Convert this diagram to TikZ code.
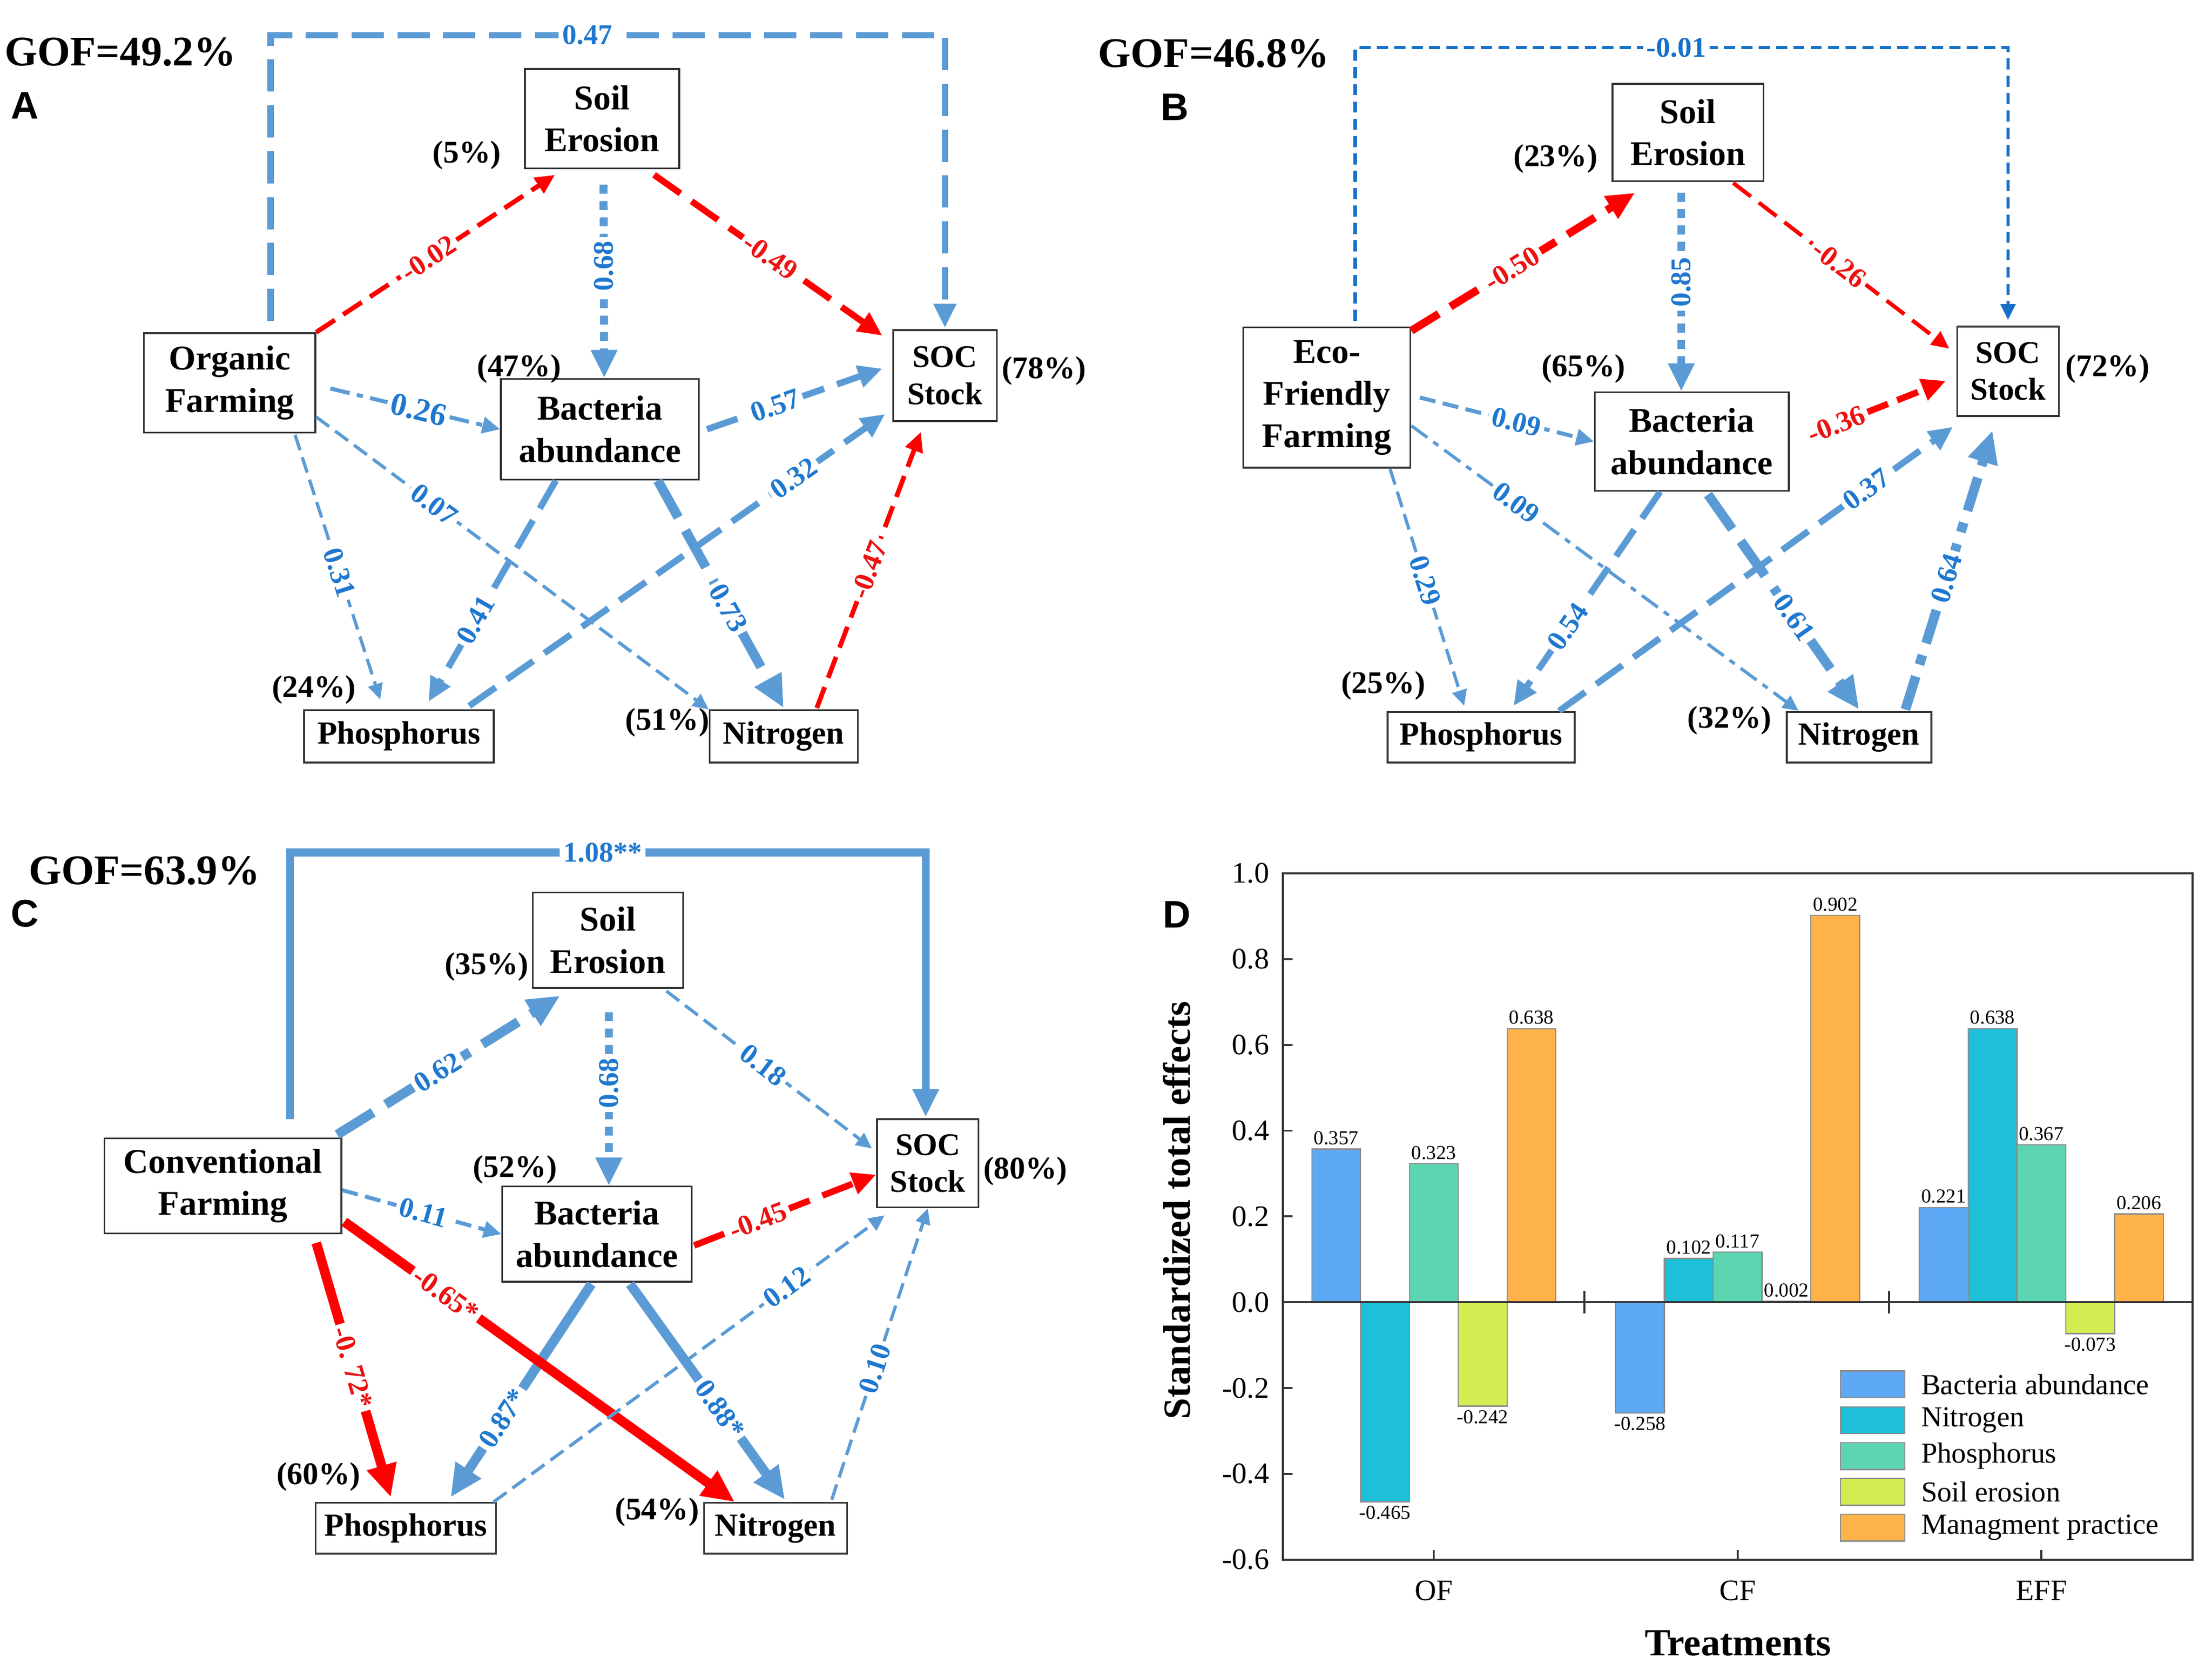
\documentclass[tikz,border=0pt]{standalone}
\usepackage{fontspec}
\setmainfont{Liberation Serif}
\newfontfamily\panelfont{Liberation Sans}
\usetikzlibrary{arrows.meta}
\definecolor{lblue}{HTML}{5B9BD5}
\definecolor{tblue}{HTML}{1F78CF}
\definecolor{dblue}{HTML}{1670C8}
\definecolor{lred}{HTML}{FF0000}
\definecolor{tred}{HTML}{EE1111}
\definecolor{cBA}{HTML}{5DA9F6}
\definecolor{cN}{HTML}{1DBFD9}
\definecolor{cP}{HTML}{5CD6B2}
\definecolor{cSE}{HTML}{D4EB52}
\definecolor{cMP}{HTML}{FDB24A}
\tikzset{
	box/.style={draw=black!80, line width=0.7pt, fill=white, align=center, inner sep=0pt, font=\fontsize{14}{17}\selectfont\bfseries},
	socbox/.style={box, font=\fontsize{12.7}{15}\selectfont\bfseries},
	botbox/.style={box, font=\fontsize{13}{15}\selectfont\bfseries},
	pct/.style={inner sep=0pt, font=\fontsize{12.7}{15}\selectfont\bfseries},
	gof/.style={anchor=west, inner sep=0pt, font=\fontsize{17}{20}\selectfont\bfseries},
	panel/.style={anchor=west, inner sep=0pt, font=\panelfont\fontsize{15.5}{18}\selectfont\bfseries},
	lab/.style={fill=white, inner sep=1.5pt, sloped, font=\fontsize{11.5}{13}\selectfont\bfseries},
	labb/.style={lab, text=tblue},
	labr/.style={lab, text=tred},
	labd/.style={lab, text=dblue},
	labv/.style={labb, sloped=false, rotate=90},
	eb/.style={draw=lblue, -{Triangle[length=3pt 2.6, width=3pt 2.2]}},
	er/.style={draw=lred, -{Triangle[length=3pt 2.6, width=3pt 2.2]}},
	ed/.style={draw=dblue, -{Triangle[length=3pt 2.6, width=3pt 2.2]}},
	wa/.style={line width=1.3pt},
	wb/.style={line width=1.6pt},
	wc/.style={line width=1.9pt},
	wd/.style={line width=2.6pt},
	we/.style={line width=3.2pt},
	wf/.style={line width=3.9pt},
	d0/.style={dash pattern=on 4.5pt off 2.5pt},
	d1/.style={dash pattern=on 6.5pt off 3pt},
	d2/.style={dash pattern=on 9pt off 4pt},
	d3/.style={dash pattern=on 13pt off 5.5pt},
	d4/.style={dash pattern=on 17pt off 6pt},
	dsq/.style={dash pattern=on 3.6pt off 3pt},
	ddot/.style={dash pattern=on 8pt off 3pt on 2.5pt off 3pt},
	ddotw/.style={dash pattern=on 14pt off 5pt on 4pt off 5pt},
	axisline/.style={draw=black!80, line width=0.8pt},
	bar/.style={draw=black!45, line width=0.5pt},
	val/.style={inner sep=1.5pt, font=\fontsize{8}{9}\selectfont},
	tickl/.style={inner sep=0pt, font=\fontsize{12}{14}\selectfont},
	legl/.style={anchor=west, inner sep=0pt, font=\fontsize{11.7}{14}\selectfont},
	axl/.style={inner sep=0pt, font=\fontsize{15.5}{18}\selectfont\bfseries}
}

\begin{document}
\begin{tikzpicture}[x=0.02cm, y=-0.02cm]
	\useasboundingbox (0,0) rectangle (1568,1179.6);

	\node[gof] (gA) at (3,37) {GOF=49.2\%};
	\node[panel] (pA) at (7.5,75) {A};
	\node[box, minimum width=2.19cm, minimum height=1.41cm] (a1) at (426.8,84.1) {Soil\\Erosion};
	\node[box, minimum width=2.43cm, minimum height=1.41cm] (a0) at (162.8,271.4) {Organic\\Farming};
	\node[box, minimum width=2.81cm, minimum height=1.43cm] (a2) at (425.3,304.3) {Bacteria\\abundance};
	\node[socbox, minimum width=1.47cm, minimum height=1.29cm] (a3) at (669.8,266.3) {SOC\\Stock};
	\node[botbox, minimum width=2.69cm, minimum height=0.74cm] (a4) at (282.8,522) {Phosphorus};
	\node[botbox, minimum width=2.1cm, minimum height=0.74cm] (a5) at (555.5,522) {Nitrogen};
	\node[pct] (a1p) at (331,110) {(5\%)};
	\node[pct] (a2p) at (368,261.5) {(47\%)};
	\node[pct] (a3p) at (740,263) {(78\%)};
	\node[pct] (a4p) at (222.5,489) {(24\%)};
	\node[pct] (a5p) at (473,512) {(51\%)};

	\draw[eb, wd, d3] ([shift={(29,-8)}]a0.north) -- ++(0,-202.6) -| node[labb, pos=0.235] {0.47} ([shift={(0,-1)}]a3.north);
	\draw[er, wc, d2] (a0.north east) -- node[labr, pos=0.47] {-0.02} ([shift={(22,4)}]a1.south west);
	\draw[er, wd, d3] ([shift={(-18.5,4)}]a1.south east) -- node[labr, pos=0.51] {-0.49} ([shift={(-7,4.5)}]a3.north west);
	\draw[eb, we, dsq] ([shift={(1,11)}]a1.south) -- node[labv, pos=0.42] {0.68} ([shift={(3,0)}]a2.north);
	\draw[eb, wb, ddot] ([shift={(10,4)}]a0.east) -- node[labb, pos=0.52, font=\fontsize{13}{15}\selectfont\bfseries] {0.26} (a2.west);
	\draw[eb, wa, d1] ([shift={(0,-11.7)}]a0.south east) -- node[labb, pos=0.30] {0.07} (a5.north west);
	\draw[eb, wa, d1] ([shift={(-15,1)}]a0.south east) -- node[labb, pos=0.52] {0.31} ([shift={(-13.3,-7)}]a4.north);
	\draw[eb, wd, d3] ([shift={(5,0)}]a2.east) -- node[labb, pos=0.39] {0.57} ([shift={(-7,-5)}]a3.west);
	\draw[eb, wd, d3] ([shift={(-18,-2.5)}]a4.north east) -- node[labb, pos=0.78] {0.32} ([shift={(-5,-5.6)}]a3.south west);
	\draw[eb, wd, d3] ([shift={(-31.3,0)}]a2.south) -- node[labb, pos=0.63] {0.41} ([shift={(21,-5.5)}]a4.north);
	\draw[eb, wf, d4] ([shift={(41,0)}]a2.south) -- node[labb, pos=0.56] {0.73} ([shift={(0,-1)}]a5.north);
	\draw[er, wc, d2] ([shift={(23.5,-1)}]a5.north) -- node[labr, pos=0.50] {-0.47} ([shift={(-17,7)}]a3.south);

	\node[gof] (gB) at (778,38) {GOF=46.8\%};
	\node[panel] (pB) at (822.5,76) {B};
	\node[box, minimum width=2.14cm, minimum height=1.38cm] (b1) at (1196.5,93.9) {Soil\\Erosion};
	\node[box, minimum width=2.37cm, minimum height=1.99cm] (b0) at (940.6,281.8) {Eco-\\Friendly\\Farming};
	\node[box, minimum width=2.75cm, minimum height=1.40cm] (b2) at (1199.2,313) {Bacteria\\abundance};
	\node[socbox, minimum width=1.44cm, minimum height=1.27cm] (b3) at (1423.4,263.2) {SOC\\Stock};
	\node[botbox, minimum width=2.65cm, minimum height=0.72cm] (b4) at (1049.9,522.6) {Phosphorus};
	\node[botbox, minimum width=2.05cm, minimum height=0.72cm] (b5) at (1317.8,522.6) {Nitrogen};
	\node[pct] (b1p) at (1102.7,112.4) {(23\%)};
	\node[pct] (b2p) at (1122.5,261.5) {(65\%)};
	\node[pct] (b3p) at (1494,261.5) {(72\%)};
	\node[pct] (b4p) at (980.5,486) {(25\%)};
	\node[pct] (b5p) at (1226,510.6) {(32\%)};

	\draw[ed, wa, d0] ([shift={(20,-4)}]b0.north) -- ++(0,-193.7) -| node[labd, pos=0.246] {-0.01} ([shift={(0,-4)}]b3.north);
	\draw[er, we, d3] ([shift={(0,3)}]b0.north east) -- node[labr, pos=0.45] {-0.50} ([shift={(16.5,7.7)}]b1.south west);
	\draw[er, wb, d2] ([shift={(-22,0.7)}]b1.south east) -- node[labr, pos=0.49] {-0.26} ([shift={(-5,-16)}]b3.west);
	\draw[eb, we, dsq] ([shift={(-4.7,7.7)}]b1.south) -- node[labv, pos=0.45] {0.85} ([shift={(-7.4,0)}]b2.north);
	\draw[eb, wb, d1] ([shift={(6,0)}]b0.east) -- node[labb, pos=0.555] {0.09} (b2.west);
	\draw[eb, wa, ddot] ([shift={(0,20)}]b0.east) -- node[labb, pos=0.27] {0.09} ([shift={(9,0)}]b5.north west);
	\draw[eb, wa, d1] ([shift={(-15,0.5)}]b0.south east) -- node[labb, pos=0.47] {0.29} ([shift={(-12,-3.6)}]b4.north);
	\draw[er, wd, d2] ([shift={(12.6,-4)}]b2.east) -- node[labr, pos=0.21] {-0.36} ([shift={(-7.4,6.8)}]b3.west);
	\draw[eb, wd, d3] ([shift={(-22.4,0)}]b2.south) -- node[labb, pos=0.63] {0.54} ([shift={(23,-3.6)}]b4.north);
	\draw[eb, wf, d4] ([shift={(11.5,2)}]b2.south) -- node[labb, pos=0.57] {0.61} ([shift={(0,-1)}]b5.north);
	\draw[eb, wd, d3] ([shift={(-11.6,0)}]b4.north east) -- node[labb, pos=0.78] {0.37} ([shift={(-2.4,7)}]b3.south west);
	\draw[eb, wf, ddotw] ([shift={(-19,-1)}]b5.north east) -- node[labb, pos=0.47] {0.64} ([shift={(-11,9.6)}]b3.south);

	\node[gof] (gC) at (20,617.4) {GOF=63.9\%};
	\node[panel] (pC) at (7.5,647.5) {C};
	\node[box, minimum width=2.13cm, minimum height=1.35cm] (c1) at (430.9,666.5) {Soil\\Erosion};
	\node[box, minimum width=3.36cm, minimum height=1.35cm] (c0) at (158,840.7) {Conventional\\Farming};
	\node[box, minimum width=2.69cm, minimum height=1.35cm] (c2) at (423.2,874.9) {Bacteria\\abundance};
	\node[socbox, minimum width=1.44cm, minimum height=1.25cm] (c3) at (657.7,824.7) {SOC\\Stock};
	\node[botbox, minimum width=2.56cm, minimum height=0.72cm] (c4) at (287.7,1083.4) {Phosphorus};
	\node[botbox, minimum width=2.03cm, minimum height=0.72cm] (c5) at (549.7,1083.4) {Nitrogen};
	\node[pct] (c1p) at (345,685.2) {(35\%)};
	\node[pct] (c2p) at (365,829.3) {(52\%)};
	\node[pct] (c3p) at (726.8,830.3) {(80\%)};
	\node[pct] (c4p) at (225.8,1047) {(60\%)};
	\node[pct] (c5p) at (465.8,1072) {(54\%)};

	\draw[eb, we] ([shift={(47.6,-12.8)}]c0.north) -- ++(0,-189.2) -| node[labb, pos=0.246] {1.08**} ([shift={(-1.5,-1)}]c3.north);
	\draw[eb, wf, d4] ([shift={(-3.5,-2)}]c0.north east) -- node[labb, pos=0.45] {0.62} ([shift={(20,5)}]c1.south west);
	\draw[eb, wa, d1] ([shift={(-12.4,1.7)}]c1.south east) -- node[labb, pos=0.47] {0.18} ([shift={(-3,-10.5)}]c3.west);
	\draw[eb, we, dsq] ([shift={(0.7,16.7)}]c1.south) -- node[labv, pos=0.41] {0.68} ([shift={(8.4,0)}]c2.north);
	\draw[eb, wb, d1] ([shift={(0,3)}]c0.east) -- node[labb, pos=0.51] {0.11} (c2.west);
	\draw[eb, wf] ([shift={(-4,1)}]c2.south) -- node[labb, pos=0.63] {0.87*} ([shift={(31.7,-3.4)}]c4.north);
	\draw[er, wf] ([shift={(1.5,25.4)}]c0.east) -- node[labr, pos=0.26] {-0.65*} ([shift={(22.5,0)}]c5.north west);
	\draw[er, wf] ([shift={(-18.4,6)}]c0.south east) -- node[labr, pos=0.49] {-0. 72*} ([shift={(-10.7,-3.4)}]c4.north);
	\draw[er, wd, d3] ([shift={(1,8)}]c2.east) -- node[labr, pos=0.35] {-0.45} ([shift={(0,8)}]c3.west);
	\draw[eb, wf] ([shift={(23.4,1)}]c2.south) -- node[labb, pos=0.58] {0.88*} ([shift={(6.7,-1.6)}]c5.north);
	\draw[eb, wa, d1] ([shift={(-2.5,0)}]c4.north east) -- node[labb, pos=0.75] {0.12} ([shift={(6,5)}]c3.south west);
	\draw[eb, wa, d1] ([shift={(-11.5,-1.6)}]c5.north east) -- node[labb, pos=0.45] {0.10} (c3.south);

	\node[panel] (pD) at (824,648.5) {D};
	\foreach \x/\v/\c/\a [count=\i] in {929.9/0.357/cBA/south, 964.5/-0.465/cN/north, 999.1/0.323/cP/south, 1033.7/-0.242/cSE/north, 1068.3/0.638/cMP/south,
		1145.2/-0.258/cBA/north, 1179.8/0.102/cN/south, 1214.4/0.117/cP/south, 1249.0/0.002/cSE/south, 1283.6/0.902/cMP/south,
		1360.5/0.221/cBA/south, 1395.1/0.638/cN/south, 1429.7/0.367/cP/south, 1464.3/-0.073/cSE/north, 1498.9/0.206/cMP/south} {
		\draw[bar, fill=\c] (\x,923.2) rectangle ++(34.6,{-304.1*\v});
		\node[val, anchor=\a] (v\i) at ({\x+17.3},{923.2-304.1*\v}) {\v};
	}
	\draw[axisline] (909.2,619.1) rectangle (1554.2,1105.7);
	\draw[axisline] (909.2,923.2) -- (1554.2,923.2);
	\foreach \v [count=\i] in {1.0,0.8,0.6,0.4,0.2,0.0,-0.2,-0.4,-0.6}
		\node[tickl, anchor=east] (yt\i) at (900,{923.2-304.1*\v}) {\v};
	\foreach \v in {0.8,0.6,0.4,0.2,-0.2,-0.4}
		\draw[axisline] (909.2,{923.2-304.1*\v}) -- ++(7,0);
	\foreach \x in {1016.4,1231.7,1447.1}
		\draw[axisline] (\x,1105.7) -- ++(0,-7);
	\foreach \x in {1123.1,1338.9}
		\draw[axisline] (\x,915) -- (\x,931);
	\node[tickl] (xOF) at (1016.4,1127.5) {OF};
	\node[tickl] (xCF) at (1231.7,1127.5) {CF};
	\node[tickl] (xEFF) at (1447.1,1127.5) {EFF};
	\node[axl] (xl) at (1232,1165) {Treatments};
	\node[axl, rotate=90] (yl) at (834,858) {Standardized total effects};

	\foreach \c/\t [count=\i] in {cBA/Bacteria abundance, cN/Nitrogen, cP/Phosphorus, cSE/Soil erosion, cMP/Managment practice} {
		\draw[bar, fill=\c] (1304.5,{971.9+25.4*(\i-1)}) rectangle ++(45.7,19);
		\node[legl] (lg\i) at (1361.5,{981.4+25.4*(\i-1)}) {\t};
	}
\end{tikzpicture}
\end{document}
